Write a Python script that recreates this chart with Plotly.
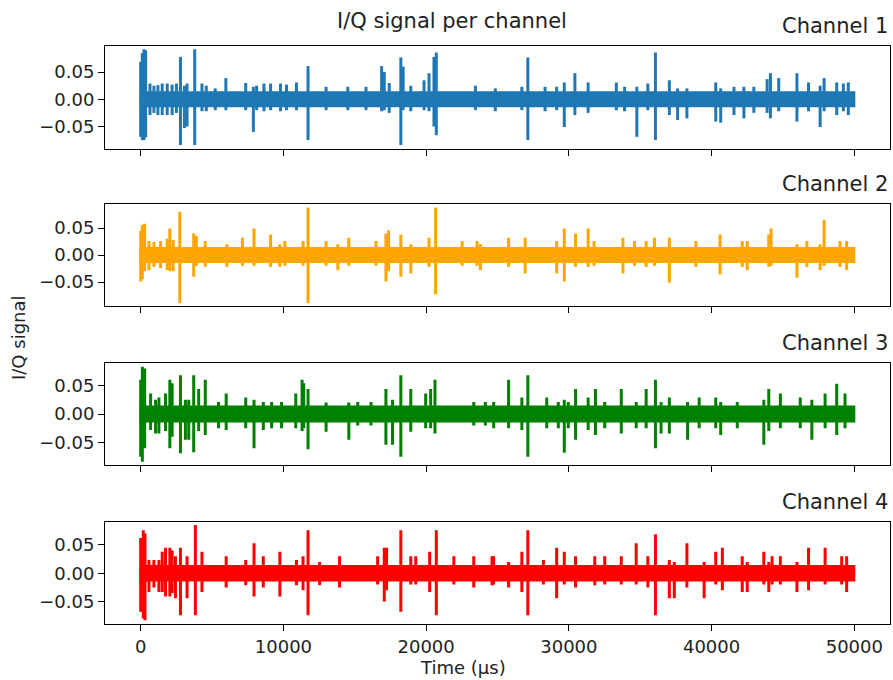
import plotly.graph_objects as go

# ---------------- data ----------------
time_range = [0, 50000]          # µs, extent of the continuous noise band
band_amp = [0.013, 0.013, 0.013, 0.013]   # half-height of the dense noise band per channel

ch1_t = [0, 116, 232, 348, 650, 928, 1207, 1509, 1857, 2205, 2507, 2786, 3064, 3250, 3784, 4295, 4597, 5224,
         5967, 7360, 7894, 8126, 8637, 9102, 9798, 10216, 10913, 11726, 12990, 14512, 15789, 16880, 17066,
         17414, 18227, 18390, 18924, 19853, 20201, 20549, 20712, 23452, 24845, 26707, 27125, 28332, 29145,
         29679, 30422, 31351, 33325, 33905, 34764, 35531, 36065, 37040, 37620, 38271, 40291, 40639, 41568,
         42265, 42961, 43890, 44122, 44702, 45980, 46792, 47605, 47884, 48766, 49231, 49579]
ch1_hi = [0.069, 0.085, 0.092, 0.090, 0.029, 0.025, 0.026, 0.029, 0.029, 0.027, 0.029, 0.078, 0.025, 0.029,
          0.092, 0.029, 0.025, 0.020, 0.039, 0.030, 0.023, 0.025, 0.029, 0.029, 0.029, 0.027, 0.031, 0.061,
          0.023, 0.023, 0.023, 0.061, 0.050, 0.030, 0.077, 0.060, 0.025, 0.035, 0.048, 0.078, 0.086, 0.025,
          0.020, 0.023, 0.077, 0.023, 0.023, 0.031, 0.048, 0.031, 0.031, 0.023, 0.023, 0.029, 0.086, 0.035,
          0.020, 0.020, 0.031, 0.020, 0.023, 0.023, 0.023, 0.037, 0.048, 0.039, 0.048, 0.031, 0.025, 0.039,
          0.031, 0.029, 0.031]
ch1_lo = [-0.069, -0.075, -0.075, -0.070, -0.029, -0.025, -0.029, -0.029, -0.029, -0.029, -0.025, -0.084,
          -0.053, -0.050, -0.084, -0.022, -0.022, -0.020, -0.020, -0.020, -0.060, -0.020, -0.022, -0.020,
          -0.022, -0.020, -0.020, -0.075, -0.020, -0.020, -0.020, -0.022, -0.020, -0.025, -0.084, -0.020,
          -0.022, -0.020, -0.022, -0.050, -0.066, -0.020, -0.022, -0.020, -0.075, -0.022, -0.020, -0.051,
          -0.029, -0.025, -0.020, -0.022, -0.069, -0.020, -0.075, -0.029, -0.038, -0.035, -0.041, -0.043,
          -0.029, -0.035, -0.025, -0.025, -0.035, -0.022, -0.041, -0.022, -0.051, -0.022, -0.029, -0.022,
          -0.029]

ch2_t = [0, 116, 278, 580, 928, 1393, 1857, 2043, 2275, 2740, 3715, 3900, 4527, 6037, 7128, 7941, 9102, 9752,
         10100, 11377, 11726, 12990, 13815, 14581, 16486, 17182, 17368, 18227, 18924, 20201, 20665, 22523,
         23568, 23800, 25778, 26939, 29145, 29679, 30469, 31351, 31769, 33789, 34602, 35414, 35995, 37040,
         38898, 40593, 42148, 42497, 44006, 44169, 45980, 46677, 47605, 47884, 48998, 49463]
ch2_hi = [0.045, 0.056, 0.058, 0.026, 0.024, 0.026, 0.030, 0.049, 0.028, 0.080, 0.040, 0.035, 0.026, 0.020,
          0.032, 0.049, 0.038, 0.020, 0.026, 0.026, 0.088, 0.026, 0.020, 0.032, 0.026, 0.040, 0.046, 0.038,
          0.020, 0.032, 0.088, 0.026, 0.026, 0.020, 0.032, 0.032, 0.026, 0.049, 0.040, 0.049, 0.026, 0.032,
          0.026, 0.026, 0.032, 0.032, 0.026, 0.038, 0.026, 0.026, 0.038, 0.049, 0.020, 0.026, 0.020, 0.065,
          0.026, 0.026]
ch2_lo = [-0.049, -0.045, -0.030, -0.028, -0.022, -0.024, -0.028, -0.030, -0.030, -0.089, -0.040, -0.020,
          -0.022, -0.022, -0.020, -0.020, -0.022, -0.022, -0.020, -0.020, -0.089, -0.020, -0.028, -0.020,
          -0.020, -0.049, -0.030, -0.040, -0.034, -0.022, -0.073, -0.020, -0.020, -0.028, -0.022, -0.034,
          -0.034, -0.049, -0.022, -0.022, -0.020, -0.034, -0.020, -0.022, -0.020, -0.051, -0.022, -0.036,
          -0.022, -0.028, -0.022, -0.020, -0.042, -0.022, -0.028, -0.020, -0.022, -0.028]

ch3_t = [0, 116, 278, 696, 1044, 1277, 1741, 2043, 2205, 2786, 3134, 3366, 3715, 4063, 4527, 5456, 5990, 7360,
         7941, 8591, 9174, 9868, 10866, 11308, 11424, 11726, 12990, 14582, 15208, 16138, 17182, 17646, 18227,
         18924, 19969, 20317, 20619, 23336, 24148, 24733, 25778, 26707, 27125, 28449, 29261, 29679, 29958,
         30469, 31351, 31862, 32512, 33673, 34718, 35415, 36065, 36460, 37040, 38317, 39130, 40291, 40639,
         41800, 43658, 44006, 44819, 46212, 47025, 47953, 48766, 49347]
ch3_hi = [0.060, 0.083, 0.080, 0.036, 0.025, 0.029, 0.036, 0.060, 0.054, 0.068, 0.025, 0.025, 0.068, 0.044,
          0.060, 0.021, 0.036, 0.029, 0.025, 0.021, 0.021, 0.021, 0.036, 0.060, 0.054, 0.044, 0.020, 0.020,
          0.021, 0.021, 0.044, 0.025, 0.068, 0.044, 0.036, 0.044, 0.060, 0.021, 0.021, 0.021, 0.060, 0.029,
          0.068, 0.029, 0.021, 0.025, 0.021, 0.044, 0.029, 0.044, 0.021, 0.044, 0.021, 0.044, 0.060, 0.021,
          0.029, 0.021, 0.029, 0.029, 0.021, 0.021, 0.025, 0.044, 0.036, 0.029, 0.025, 0.036, 0.053, 0.036]
ch3_lo = [-0.075, -0.084, -0.060, -0.028, -0.034, -0.034, -0.030, -0.060, -0.040, -0.069, -0.045, -0.045,
          -0.067, -0.030, -0.037, -0.025, -0.028, -0.025, -0.060, -0.028, -0.025, -0.025, -0.025, -0.030,
          -0.025, -0.062, -0.031, -0.045, -0.020, -0.020, -0.054, -0.054, -0.075, -0.031, -0.025, -0.025,
          -0.034, -0.020, -0.020, -0.025, -0.025, -0.028, -0.075, -0.025, -0.025, -0.068, -0.025, -0.045,
          -0.028, -0.037, -0.025, -0.034, -0.025, -0.025, -0.060, -0.034, -0.034, -0.045, -0.025, -0.025,
          -0.037, -0.025, -0.054, -0.030, -0.025, -0.025, -0.045, -0.025, -0.037, -0.025]

ch4_t = [0, 185, 301, 580, 928, 1277, 1509, 1741, 2043, 2205, 2437, 2786, 3250, 3831, 4295, 5990, 7360, 7941,
         8591, 9752, 10913, 11377, 11726, 12538, 13932, 16602, 17066, 17229, 18227, 18924, 19272, 20248,
         20712, 21942, 23336, 24617, 24729, 25778, 26707, 27125, 28216, 29145, 29679, 30469, 31815, 32512,
         33673, 34718, 35531, 36065, 37040, 37388, 38271, 39478, 40291, 40755, 42148, 42497, 43658, 44006,
         44238, 44819, 45980, 46793, 47954, 49115, 49463]
ch4_hi = [0.062, 0.076, 0.070, 0.0235, 0.0235, 0.0235, 0.038, 0.045, 0.045, 0.040, 0.030, 0.045, 0.030,
          0.085, 0.038, 0.030, 0.0235, 0.053, 0.030, 0.038, 0.0235, 0.030, 0.076, 0.020, 0.030, 0.030, 0.045,
          0.045, 0.076, 0.030, 0.030, 0.038, 0.076, 0.030, 0.030, 0.030, 0.030, 0.020, 0.038, 0.076, 0.0235,
          0.045, 0.038, 0.030, 0.030, 0.030, 0.030, 0.053, 0.030, 0.069, 0.0235, 0.020, 0.053, 0.020, 0.038,
          0.045, 0.030, 0.020, 0.038, 0.020, 0.030, 0.030, 0.020, 0.045, 0.045, 0.030, 0.030]
ch4_lo = [-0.068, -0.080, -0.083, -0.033, -0.025, -0.033, -0.033, -0.041, -0.041, -0.035, -0.044, -0.074,
          -0.044, -0.074, -0.033, -0.025, -0.021, -0.041, -0.025, -0.041, -0.021, -0.030, -0.074, -0.021,
          -0.025, -0.020, -0.050, -0.030, -0.068, -0.020, -0.020, -0.033, -0.074, -0.020, -0.025, -0.021,
          -0.020, -0.025, -0.033, -0.074, -0.020, -0.044, -0.020, -0.025, -0.021, -0.020, -0.020, -0.020,
          -0.025, -0.074, -0.044, -0.044, -0.025, -0.044, -0.020, -0.030, -0.033, -0.033, -0.020, -0.033,
          -0.020, -0.020, -0.033, -0.030, -0.020, -0.020, -0.033]

channel_names = ["Channel 1", "Channel 2", "Channel 3", "Channel 4"]
colors = ["#1f77b4", "#ffa500", "#008000", "#ff0000"]
y_ranges = [[-0.0914, 0.0980], [-0.0944, 0.0939], [-0.0895, 0.0890], [-0.0896, 0.0910]]
x_ticks = [0, 10000, 20000, 30000, 40000, 50000]
y_tick_vals = [-0.05, 0.0, 0.05]
y_tick_text = ["\u22120.05", "0.00", "0.05"]

# ---------------- figure ----------------
W, H = 893, 680
ML, MR, MT, MB = 105, 3, 46, 56
domains = [[0.8218, 1.0], [0.5502, 0.7261], [0.2751, 0.4510], [0.0, 0.1770]]
FONT = "DejaVu Sans"

series = [(ch1_t, ch1_hi, ch1_lo), (ch2_t, ch2_hi, ch2_lo), (ch3_t, ch3_hi, ch3_lo), (ch4_t, ch4_hi, ch4_lo)]

fig = go.Figure()
layout = dict(
    width=W, height=H,
    margin=dict(l=ML, r=MR, t=MT, b=MB, pad=0),
    paper_bgcolor="white", plot_bgcolor="white",
    showlegend=False, hovermode=False,
    font=dict(family=FONT, size=18, color="#000000"),
)

annotations = []
for i, (ts, his, los) in enumerate(series):
    n = i + 1
    xa = "x" if n == 1 else f"x{n}"
    ya = "y" if n == 1 else f"y{n}"
    b = band_amp[i]
    # dense noise band
    fig.add_trace(go.Scatter(
        x=[time_range[0], time_range[1], time_range[1], time_range[0], time_range[0]],
        y=[b, b, -b, -b, b],
        mode="lines", fill="toself", fillcolor=colors[i],
        line=dict(color=colors[i], width=2),
        xaxis=xa, yaxis=ya, hoverinfo="skip"))
    # bursts / spikes
    xs, ys = [], []
    for t, hi, lo in zip(ts, his, los):
        xs += [t, t, None]
        ys += [lo, hi, None]
    fig.add_trace(go.Scatter(
        x=xs, y=ys, mode="lines",
        line=dict(color=colors[i], width=3),
        xaxis=xa, yaxis=ya, hoverinfo="skip"))

    xkey = "xaxis" if n == 1 else f"xaxis{n}"
    ykey = "yaxis" if n == 1 else f"yaxis{n}"
    layout[xkey] = dict(
        domain=[0, 1], anchor=ya, range=[-2500, 52500],
        showline=True, mirror=True, linecolor="#000000", linewidth=1,
        ticks="outside", ticklen=6, tickwidth=1, tickcolor="#000000",
        tickvals=x_ticks, ticktext=[str(v) for v in x_ticks],
        showticklabels=(n == 4), showgrid=False, zeroline=False,
        tickfont=dict(family=FONT, size=18, color="#222222"),
    )
    if n != 1:
        layout[xkey]["matches"] = "x"
    layout[ykey] = dict(
        domain=domains[i], anchor=xa, range=y_ranges[i],
        showline=True, mirror=True, linecolor="#000000", linewidth=1,
        ticks="outside", ticklen=6, tickwidth=1, tickcolor="#000000",
        tickvals=y_tick_vals, ticktext=y_tick_text,
        showgrid=False, zeroline=False,
        tickfont=dict(family=FONT, size=18, color="#222222"),
    )
    annotations.append(dict(
        text=channel_names[i], xref="paper", yref="paper",
        x=1.0, y=domains[i][1], xanchor="right", yanchor="bottom",
        yshift=6, showarrow=False,
        font=dict(family=FONT, size=21, color="#222222")))

annotations.append(dict(
    text="I/Q signal per channel", xref="paper", yref="paper",
    x=(452 - ML) / (W - ML - MR), y=1.0, xanchor="center", yanchor="bottom",
    yshift=11, showarrow=False, font=dict(family=FONT, size=21, color="#222222")))
annotations.append(dict(
    text="Time (\u00b5s)", xref="paper", yref="paper",
    x=(463 - ML) / (W - ML - MR), y=0.0, xanchor="center", yanchor="top",
    yshift=-31, showarrow=False, font=dict(family=FONT, size=18, color="#222222")))
annotations.append(dict(
    text="I/Q signal", xref="paper", yref="paper",
    x=(18 - ML) / (W - ML - MR), y=(H - MB - 338) / (H - MT - MB), xanchor="center", yanchor="middle",
    textangle=-90, showarrow=False, font=dict(family=FONT, size=18, color="#222222")))

layout["annotations"] = annotations
fig.update_layout(**layout)
fig.write_html(
    "out.html",
    config={"displayModeBar": False, "staticPlot": True},
    post_script="document.body.style.margin='0';document.body.style.overflow='hidden';",
)
